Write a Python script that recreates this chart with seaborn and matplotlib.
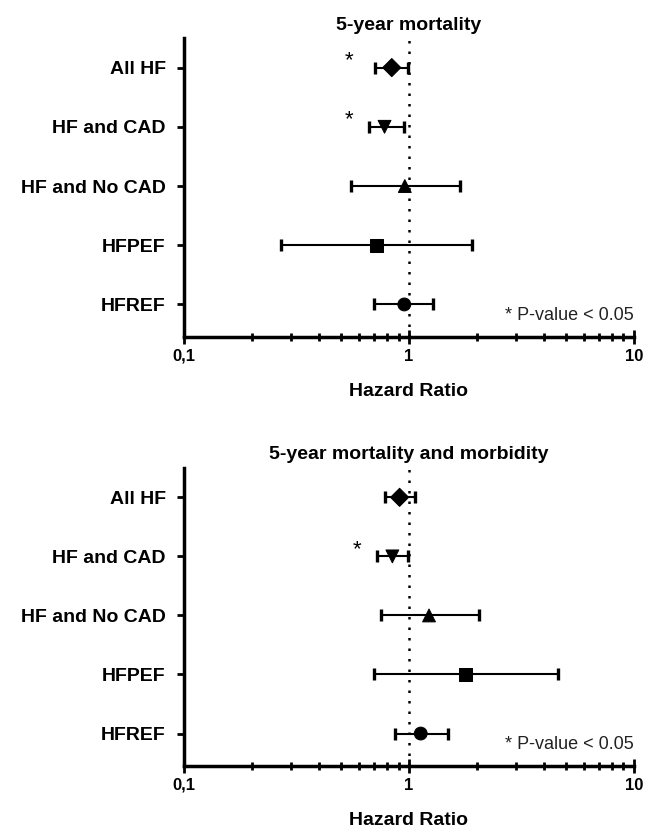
import matplotlib
matplotlib.use("Agg")
import matplotlib.pyplot as plt
from matplotlib.ticker import FixedLocator, LogLocator, NullFormatter
import seaborn as sns
import pandas as pd
import numpy as np

groups = ["All HF", "HF and CAD", "HF and No CAD", "HFPEF", "HFREF"]
markers = ["D", "v", "^", "s", "o"]

# 5-year mortality
hr_mort = [0.84, 0.78, 0.96, 0.72, 0.955]
lo_mort = [0.71, 0.665, 0.556, 0.27, 0.70]
hi_mort = [0.99, 0.95, 1.69, 1.91, 1.28]
sig_mort = [True, True, False, False, False]

# 5-year mortality and morbidity
hr_morb = [0.91, 0.845, 1.23, 1.78, 1.13]
lo_morb = [0.78, 0.72, 0.75, 0.70, 0.87]
hi_morb = [1.07, 0.99, 2.05, 4.6, 1.49]
sig_morb = [False, True, False, False, False]

titles = ["5-year mortality", "5-year mortality and morbidity"]
star_x = [0.54, 0.59]

sns.set_style("ticks")
plt.rcParams['font.family'] = ['Liberation Sans', 'DejaVu Sans']
for key in ['text.color', 'axes.labelcolor', 'xtick.color', 'ytick.color']:
    plt.rcParams[key] = 'black'

fig = plt.figure(figsize=(6.52, 8.33), dpi=100)
ax_top = fig.add_axes([0.282, 0.5954, 0.690, 0.359])
ax_bot = fig.add_axes([0.282, 0.0804, 0.690, 0.358])

panels = [
    (ax_top, hr_mort, lo_mort, hi_mort, sig_mort),
    (ax_bot, hr_morb, lo_morb, hi_morb, sig_morb),
]

for k, (ax, hr, lo, hi, sig) in enumerate(panels):
    df = pd.DataFrame({"group": groups, "hr": hr, "lo": lo, "hi": hi,
                       "pos": np.arange(len(groups))})
    ax.set_xscale('log')
    ax.axvline(1, color='black', linestyle=(0, (1, 3.2)), linewidth=1.8, zorder=1)
    ax.errorbar(df["hr"], df["pos"],
                xerr=[df["hr"] - df["lo"], df["hi"] - df["hr"]],
                fmt='none', ecolor='black', elinewidth=1.5,
                capsize=4.5, capthick=2.4, zorder=2)
    sns.scatterplot(data=df, x="hr", y="pos", style="group",
                    markers=dict(zip(groups, markers)), color='black',
                    s=85, edgecolor='black', legend=False, ax=ax, zorder=3)
    for i, s in enumerate(sig):
        if s:
            ax.text(star_x[k], i - 0.12, "*", fontsize=16, ha='center',
                    va='center', color='black')

    ax.set_xlim(0.1, 10)
    ax.set_ylim(4.55, -0.5)
    ax.set_yticks(df["pos"])
    ax.set_yticklabels(groups, fontsize=14, fontweight='bold')
    ax.xaxis.set_major_locator(FixedLocator([0.1, 1, 10]))
    ax.set_xticklabels(["0,1", "1", "10"], fontsize=12, fontweight='bold')
    ax.xaxis.set_minor_locator(LogLocator(base=10, subs=np.arange(2, 10)))
    ax.xaxis.set_minor_formatter(NullFormatter())
    ax.tick_params(axis='x', which='major', direction='inout', length=10,
                   width=2, color='black')
    ax.tick_params(axis='x', which='minor', direction='inout', length=6,
                   width=2, color='black')
    ax.tick_params(axis='y', direction='out', length=5, width=2, color='black',
                   pad=8)
    ax.set_xlabel("Hazard Ratio", fontsize=14, fontweight='bold', labelpad=14)
    ax.set_ylabel("")
    ax.set_title(titles[k], fontsize=14, fontweight='bold', pad=6)
    for sp in ["top", "right"]:
        ax.spines[sp].set_visible(False)
    for sp in ["left", "bottom"]:
        ax.spines[sp].set_linewidth(2.5)
        ax.spines[sp].set_color('black')
    ax.text(1.0, 0.045, "* P-value < 0.05", transform=ax.transAxes,
            ha='right', va='bottom', fontsize=13, color='#222222')

fig.savefig("out.png", dpi=100)
